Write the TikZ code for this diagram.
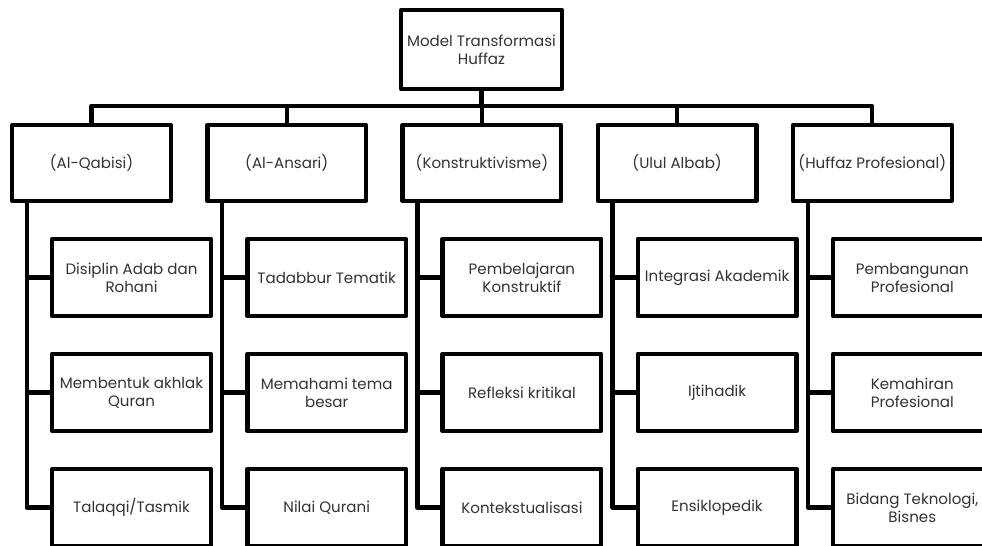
\documentclass[tikz,border=0pt]{standalone}
\usepackage{fontspec}
\setmainfont{Poppins}
\begin{document}
\begin{tikzpicture}[x=0.75pt,y=-0.75pt,
  box/.style={draw=black,line width=3.2pt,line join=round,fill=white,align=center,inner sep=2pt,text=black!80,font=\fontsize{11.3}{13.5}\selectfont},
  topbox/.style={box,minimum width=121pt,minimum height=59pt},
  catbox/.style={box,minimum width=119pt,minimum height=57pt},
  leafbox/.style={box,minimum width=119pt,minimum height=58pt},
  link/.style={line width=3.2pt,line join=round}]
\useasboundingbox (0,0) rectangle (982,546);
\clip (0,0) rectangle (982,546);
% positions
\coordinate (busy) at (0,106);
\coordinate (v1) at (27,0);
\coordinate (v2) at (222.2,0);
\coordinate (v3) at (417.4,0);
\coordinate (v4) at (612.6,0);
\coordinate (v5) at (807.8,0);
% top
\node[topbox] (top) at (481.5,49.5) {Model Transformasi\\Huffaz};
% categories
\node[catbox] (p1) at (91.5,163) {(Al-Qabisi)};
\node[catbox] (p2) at (286.7,163) {(Al-Ansari)};
\node[catbox] (p3) at (481.9,163) {(Konstruktivisme)};
\node[catbox] (p4) at (677.1,163) {(Ulul Albab)};
\node[catbox] (p5) at (872.3,163) {(Huffaz Profesional)};
% leaves
\node[leafbox] (c11) at (131.5,277.5) {Disiplin Adab dan\\Rohani};
\node[leafbox] (c12) at (131.5,392.5) {Membentuk akhlak\\Quran};
\node[leafbox] (c13) at (131.5,507.5) {Talaqqi/Tasmik};
\node[leafbox] (c21) at (326.7,277.5) {Tadabbur Tematik};
\node[leafbox] (c22) at (326.7,392.5) {Memahami tema\\besar};
\node[leafbox] (c23) at (326.7,507.5) {Nilai Qurani};
\node[leafbox] (c31) at (521.9,277.5) {Pembelajaran\\Konstruktif};
\node[leafbox] (c32) at (521.9,392.5) {Refleksi kritikal};
\node[leafbox] (c33) at (521.9,507.5) {Kontekstualisasi};
\node[leafbox] (c41) at (717.1,277.5) {Integrasi Akademik};
\node[leafbox] (c42) at (717.1,392.5) {Ijtihadik};
\node[leafbox] (c43) at (717.1,507.5) {Ensiklopedik};
\node[leafbox] (c51) at (912.3,277.5) {Pembangunan\\Profesional};
\node[leafbox] (c52) at (912.3,392.5) {Kemahiran\\Profesional};
\node[leafbox] (c53) at (912.3,507.5) {Bidang Teknologi,\\Bisnes};
% connectors
\draw[link] (top.south) -- (top.south |- busy);
\draw[link] (p1.north) -- (p1.north |- busy) -- (p5.north |- busy) -- (p5.north);
\foreach \n in {2,3,4} \draw[link] (p\n.north) -- (p\n.north |- busy);
\foreach \n in {1,...,5} {
  \draw[link] (p\n.south -| v\n) |- (c\n3.west);
  \draw[link] (c\n1.west -| v\n) -- (c\n1.west);
  \draw[link] (c\n2.west -| v\n) -- (c\n2.west);
}
\end{tikzpicture}
\end{document}
